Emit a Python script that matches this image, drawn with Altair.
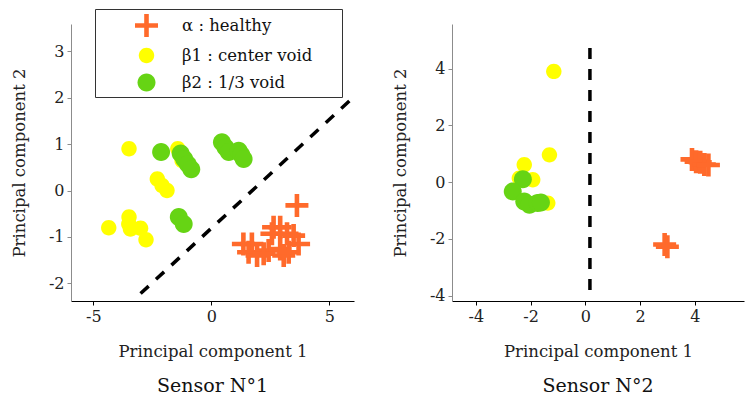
import altair as alt
import pandas as pd

# ---------------- data ----------------
classes = ["α : healthy", "β1 : center void", "β2 : 1/3 void"]
class_colors = ["#FF6A2B", "#FFFF00", "#66D414"]
# custom symbols (unit coordinates): thin cross, yellow disc, green disc
class_shapes = [
    "M-1,-0.2H-0.2V-1H0.2V-0.2H1V0.2H0.2V1H-0.2V0.2H-1Z",
    "M-0.67,0A0.67,0.67 0 1,0 0.67,0A0.67,0.67 0 1,0 -0.67,0Z",
    "M-0.78,0A0.78,0.78 0 1,0 0.78,0A0.78,0.78 0 1,0 -0.78,0Z",
]

# Sensor N°1
s1_healthy_x = [3.63, 1.36, 1.72, 1.58, 1.94, 2.64, 2.92, 2.57, 3.21, 3.49, 3.70, 2.43, 2.92, 3.07, 3.28, 2.22]
s1_healthy_y = [-0.32, -1.15, -1.15, -1.33, -1.40, -0.79, -0.79, -0.93, -0.93, -0.97, -1.15, -1.29, -1.26, -1.40, -1.33, -1.36]
s1_beta1_x = [-3.49, -1.42, -1.24, -2.29, -2.09, -1.88, -3.49, -4.35, -3.43, -3.00, -2.77, -3.50]
s1_beta1_y = [0.90, 0.90, 0.65, 0.25, 0.11, 0.00, -0.57, -0.80, -0.83, -0.81, -1.06, -0.72]
s1_beta2_x = [-2.13, -1.30, -1.15, -1.00, -0.85, 0.45, 0.60, 0.74, 1.16, 1.27, 1.37, -1.38, -1.17]
s1_beta2_y = [0.83, 0.80, 0.68, 0.57, 0.46, 1.04, 0.93, 0.83, 0.86, 0.77, 0.68, -0.57, -0.72]
s1_boundary_x = [-3.0, 6.0]
s1_boundary_y = [-2.22, 2.0]

# Sensor N°2
s2_healthy_x = [3.90, 4.05, 4.20, 4.35, 4.50, 2.90, 3.00]
s2_healthy_y = [0.80, 0.72, 0.70, 0.62, 0.60, -2.20, -2.28]
s2_beta1_x = [-1.15, -1.31, -2.23, -2.41, -1.92, -1.37]
s2_beta1_y = [3.90, 0.96, 0.61, 0.14, 0.08, -0.74]
s2_beta2_x = [-2.28, -2.65, -2.23, -2.04, -1.74, -1.62]
s2_beta2_y = [0.10, -0.33, -0.68, -0.80, -0.74, -0.72]
s2_boundary_x = [0.17, 0.17]
s2_boundary_y = [-3.8, 4.9]


def points_frame(hx, hy, b1x, b1y, b2x, b2y):
    parts = []
    for cls, xs, ys in [(classes[0], hx, hy), (classes[1], b1x, b1y), (classes[2], b2x, b2y)]:
        parts.append(pd.DataFrame({"x": xs, "y": ys, "cls": cls}))
    return pd.concat(parts, ignore_index=True)


s1_df = points_frame(s1_healthy_x, s1_healthy_y, s1_beta1_x, s1_beta1_y, s1_beta2_x, s1_beta2_y)
s2_df = points_frame(s2_healthy_x, s2_healthy_y, s2_beta1_x, s2_beta1_y, s2_beta2_x, s2_beta2_y)
s1_line = pd.DataFrame({"x": s1_boundary_x, "y": s1_boundary_y})
s2_line = pd.DataFrame({"x": s2_boundary_x, "y": s2_boundary_y})

FONT = "DejaVu Serif"
LEGEND_LABELS = "datum.label + '\u2800\u2800'"


def panel(df, line_df, xdom, ydom, xticks, yticks, w, h, title):
    x_enc = alt.X(
        "x:Q",
        scale=alt.Scale(domain=xdom, nice=False, zero=False),
        axis=alt.Axis(values=xticks, title="Principal component 1", labelExpr="datum.value + ''",
                      domainColor="#000000", tickColor="#000000"),
    )
    y_enc = alt.Y(
        "y:Q",
        scale=alt.Scale(domain=ydom, nice=False, zero=False),
        axis=alt.Axis(values=yticks, title="Principal component 2", labelExpr="datum.value + ''",
                      domainColor="#8c8c8c", tickColor="#8c8c8c"),
    )
    pts = alt.Chart(df).mark_point(filled=True, opacity=1, size=529, strokeWidth=0).encode(
        x=x_enc,
        y=y_enc,
        color=alt.Color("cls:N", scale=alt.Scale(domain=classes, range=class_colors),
                        legend=alt.Legend(title=None, labelExpr=LEGEND_LABELS)),
        shape=alt.Shape("cls:N", scale=alt.Scale(domain=classes, range=class_shapes),
                        legend=alt.Legend(title=None, labelExpr=LEGEND_LABELS)),
    )
    line = alt.Chart(line_df).mark_line(color="black", strokeWidth=3.5, strokeDash=[11, 10]).encode(
        x=x_enc, y=y_enc
    )
    return alt.layer(pts, line).properties(
        width=w,
        height=h,
        title=alt.TitleParams(title, orient="bottom", frame="group", anchor="middle", font=FONT,
                              fontSize=19, fontWeight="normal", color="#111111", offset=17),
    )


left = panel(s1_df, s1_line, [-5.95, 6.05], [-2.38, 3.59], [-5, 0, 5], [-2, -1, 0, 1, 2, 3], 283, 277, "Sensor N°1")
right = panel(s2_df, s2_line, [-4.87, 5.8], [-4.19, 5.57], [-4, -2, 0, 2, 4], [-4, -2, 0, 2, 4], 292, 277, "Sensor N°2")

chart = (
    alt.hconcat(left, right, spacing=32)
    .resolve_scale(x="independent", y="independent", color="shared", shape="shared")
    .resolve_legend(color="shared", shape="shared")
    .properties(padding={"left": 11, "top": 8, "right": 5, "bottom": 5})
    .configure_view(stroke=None)
    .configure_axis(
        grid=False,
        tickSize=4,
        labelPadding=3,
        titlePadding=19,
        labelFont=FONT,
        labelFontSize=16,
        labelColor="#222222",
        titleFont=FONT,
        titleFontSize=16.5,
        titleFontWeight="normal",
        titleColor="#222222",
    )
    .configure_axisY(titlePadding=21)
    .configure_legend(
        orient="none",
        legendX=24,
        legendY=-15,
        strokeColor="#333333",
        fillColor="white",
        padding=5,
        symbolOffset=35,
        labelOffset=24,
        labelFont=FONT,
        labelFontSize=16.5,
        labelColor="#111111",
        symbolSize=529,
        symbolStrokeWidth=0,
        rowPadding=7,
    )
)

chart.save("out.html", embed_options={"renderer": "svg", "actions": False})
